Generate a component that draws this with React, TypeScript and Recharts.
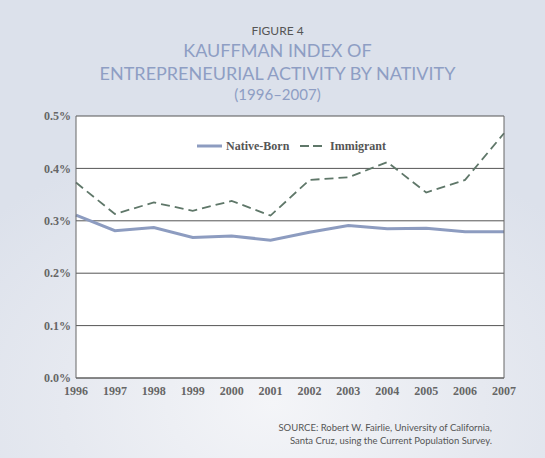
import React from 'react';
import { LineChart, Line, XAxis, YAxis, CartesianGrid } from 'recharts';

const years = ['1996', '1997', '1998', '1999', '2000', '2001', '2002', '2003', '2004', '2005', '2006', '2007'];
const nativeBorn = [0.311, 0.281, 0.287, 0.268, 0.271, 0.263, 0.278, 0.291, 0.285, 0.286, 0.279, 0.279];
const immigrant = [0.373, 0.313, 0.335, 0.319, 0.338, 0.310, 0.378, 0.383, 0.412, 0.354, 0.378, 0.467];
const yTicks = [0, 0.1, 0.2, 0.3, 0.4, 0.5];

const data = years.map((year, i) => ({ year, native: nativeBorn[i], immigrant: immigrant[i] }));

const NATIVE_COLOR = '#8d9cc0';
const IMMIGRANT_COLOR = '#5f7769';
const TITLE_COLOR = '#8e9ec4';
const tickFont = { fontSize: 12, fill: '#666', fontFamily: '"Liberation Serif", serif', fontWeight: 700 };

// legend drawn by hand so the samples look like the original
const CustomLegend = () => (
  <svg width={200} height={16} style={{ display: 'block' }}>
    <line x1={2} x2={27} y1={8} y2={8} stroke={NATIVE_COLOR} strokeWidth={3} />
    <text x={31} y={12} fontSize={12} fill="#555" fontFamily='"Liberation Serif", serif' fontWeight={700}>
      Native-Born
    </text>
    <line x1={105} x2={127} y1={8} y2={8} stroke={IMMIGRANT_COLOR} strokeWidth={1.8} strokeDasharray="9 4" />
    <text x={135} y={12} fontSize={12} fill="#555" fontFamily='"Liberation Serif", serif' fontWeight={700}>
      Immigrant
    </text>
  </svg>
);

export default function App() {
  return (
    <div
      style={{
        position: 'absolute',
        left: 0,
        top: 0,
        width: 545,
        height: 458,
        overflow: 'hidden',
        background: 'radial-gradient(ellipse 70% 60% at 50% 88%, #f4f5f8 0%, #e6e9f0 55%, #dce1eb 100%)',
        fontFamily: 'Lato, sans-serif',
      }}
    >
      <div style={{ position: 'absolute', top: 23, width: '100%', left: 5, textAlign: 'center', fontSize: 12, color: '#555' }}>
        FIGURE 4
      </div>
      <div
        style={{
          position: 'absolute',
          top: 39,
          width: '100%',
          left: 5,
          textAlign: 'center',
          fontSize: 18,
          lineHeight: '23px',
          color: TITLE_COLOR,
        }}
      >
        KAUFFMAN INDEX OF
        <br />
        ENTREPRENEURIAL ACTIVITY BY NATIVITY
      </div>
      <div style={{ position: 'absolute', top: 85, width: '100%', left: 5, textAlign: 'center', fontSize: 15, color: TITLE_COLOR }}>
        (1996–2007)
      </div>

      <LineChart width={545} height={458} data={data} margin={{ top: 116, right: 40, left: 0, bottom: 50 }}>
        <CartesianGrid vertical={false} stroke="#555" strokeWidth={1} fill="#fff" strokeOpacity={1} />
        <XAxis
          dataKey="year"
          axisLine={{ stroke: '#666', strokeWidth: 1 }}
          tickLine={false}
          tick={tickFont}
          interval={0}
          height={30}
        />
        <YAxis
          domain={[0, 0.5]}
          ticks={yTicks}
          tickFormatter={(v: number) => `${v.toFixed(1)}%`}
          axisLine={{ stroke: '#666', strokeWidth: 1 }}
          tickLine={false}
          tickSize={3}
          tick={tickFont}
          width={76}
        />
        <YAxis yAxisId="r" orientation="right" tick={false} tickLine={false} axisLine={{ stroke: '#666', strokeWidth: 1 }} width={1} />
        <Line
          dataKey="native"
          name="Native-Born"
          stroke={NATIVE_COLOR}
          strokeWidth={3}
          dot={false}
          type="linear"
          isAnimationActive={false}
        />
        <Line
          dataKey="immigrant"
          name="Immigrant"
          stroke={IMMIGRANT_COLOR}
          strokeWidth={1.8}
          strokeDasharray="9 5"
          dot={false}
          type="linear"
          isAnimationActive={false}
        />
      </LineChart>

      <div style={{ position: 'absolute', top: 138, left: 195 }}>
        <CustomLegend />
      </div>

      <div
        style={{
          position: 'absolute',
          top: 421,
          right: 53,
          textAlign: 'right',
          fontSize: 9.5,
          lineHeight: '13px',
          color: '#555',
        }}
      >
        SOURCE: Robert W. Fairlie, University of California,
        <br />
        Santa Cruz, using the Current Population Survey.
      </div>
    </div>
  );
}
